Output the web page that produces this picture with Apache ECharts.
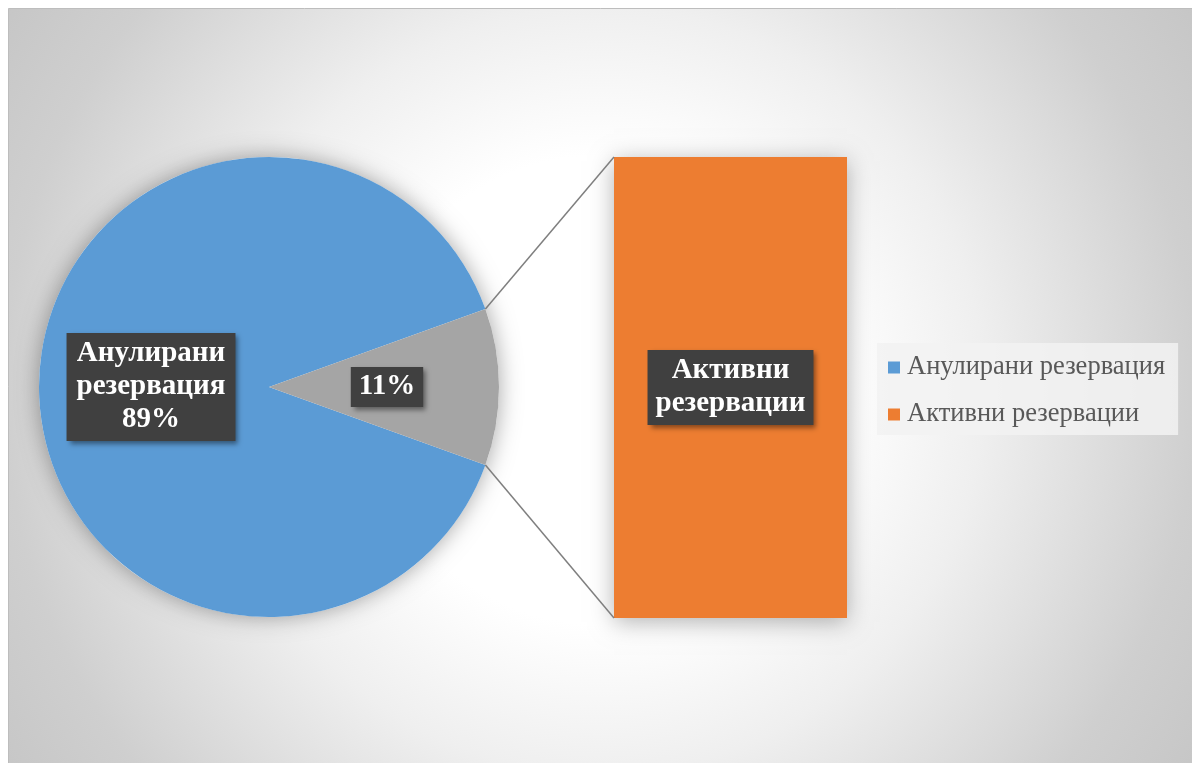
<!DOCTYPE html>
<html>
<head>
<meta charset="utf-8">
<script src="https://cdn.jsdelivr.net/npm/echarts@6/dist/echarts.min.js"></script>
<style>
  html, body { margin: 0; padding: 0; background: #ffffff; }
  #chart { width: 1192px; height: 763px; }
</style>
</head>
<body>
<div id="chart"></div>
<script>
// Reservation split: cancelled vs. active, drawn as a pie with a breakout bar
const pieNames = ['Анулирани резервация', 'Друго'];
const pieValues = [89, 11];
const barCategories = ['Друго'];
const barSeriesName = 'Активни резервации';
const barValues = [11];
const legendNames = ['Анулирани резервация', 'Активни резервации'];

const SERIF = '"Liberation Serif", "Times New Roman", serif';
const PIE_CENTER = [269, 387];
const PIE_RADIUS = 230;
const GRID = { left: 614, top: 157, width: 233, height: 461 };

const pieTotal = pieValues.reduce((a, b) => a + b, 0);
const barTotal = barValues.reduce((a, b) => a + b, 0);
// the "other" slice is the last one; centre it on the right-hand side
const otherShare = pieValues[pieValues.length - 1] / pieTotal;
const startAngle = -otherShare * 360 / 2;

const labelBox = {
  color: '#ffffff',
  fontFamily: SERIF,
  fontWeight: 'bold',
  fontSize: 29,
  lineHeight: 33,
  backgroundColor: '#404040',
  shadowColor: 'rgba(0,0,0,0.45)',
  shadowBlur: 5,
  shadowOffsetX: 3,
  shadowOffsetY: 3
};

const chart = echarts.init(document.getElementById('chart'), null, { renderer: 'canvas' });

const background = {
  id: 'bg',
  type: 'rect',
  z: -10,
  silent: true,
  shape: { x: 8.5, y: 8.5, width: 1200, height: 770 },
  style: {
    fill: {
      type: 'radial', global: true, x: 600, y: 390, r: 710,
      colorStops: [
        { offset: 0, color: '#ffffff' },
        { offset: 0.33, color: '#ffffff' },
        { offset: 0.54, color: '#efefef' },
        { offset: 0.84, color: '#cfcfcf' },
        { offset: 1, color: '#c6c6c6' }
      ]
    },
    stroke: '#bdbdbd',
    lineWidth: 1
  }
};

chart.setOption({
  animation: false,
  color: ['#5b9bd5', '#ed7d31', '#a5a5a5'],
  graphic: [background],
  legend: {
    orient: 'vertical',
    left: 877,
    top: 343,
    data: legendNames,
    icon: 'rect',
    itemWidth: 12,
    itemHeight: 12,
    itemGap: 20,
    padding: [11, 13, 7, 11],
    backgroundColor: 'rgba(242,242,242,0.85)',
    selectedMode: false,
    textStyle: { fontFamily: SERIF, fontSize: 26.5, color: '#595959', lineHeight: 24, padding: [0, 0, 0, 2] }
  },
  grid: Object.assign({ containLabel: false }, GRID),
  xAxis: { type: 'category', data: barCategories, show: false },
  yAxis: { type: 'value', min: 0, max: barTotal, show: false },
  series: [
    {
      // soft halo beneath the pie
      type: 'pie',
      silent: true,
      z: 1,
      center: PIE_CENTER,
      radius: PIE_RADIUS,
      label: { show: false },
      labelLine: { show: false },
      data: [{ name: '', value: pieTotal, itemStyle: { color: '#ffffff', shadowBlur: 22, shadowColor: 'rgba(0,0,0,0.35)' } }]
    },
    {
      type: 'pie',
      z: 2,
      center: PIE_CENTER,
      radius: PIE_RADIUS,
      startAngle: startAngle,
      clockwise: true,
      emphasis: { scale: false },
      labelLine: { show: false },
      label: Object.assign({
        show: true,
        position: 'inside',
        padding: [5, 10, 4, 10],
        formatter: p => p.dataIndex === 0
          ? p.name.replace(' ', '\n') + '\n' + Math.round(p.percent) + '%'
          : Math.round(p.percent) + '%'
      }, labelBox),
      data: pieNames.map((n, i) => ({
        name: n,
        value: pieValues[i],
        itemStyle: { color: i === 0 ? '#5b9bd5' : '#a5a5a5' },
        label: i === 0 ? {} : { padding: [4, 8, 3, 8] }
      }))
    },
    {
      type: 'bar',
      name: barSeriesName,
      stack: 'other',
      barWidth: '100%',
      data: barValues,
      itemStyle: { color: '#ed7d31', shadowBlur: 22, shadowOffsetY: 4, shadowColor: 'rgba(0,0,0,0.3)' },
      emphasis: { disabled: true },
      label: Object.assign({
        show: true,
        position: 'inside',
        padding: [5, 8, 4, 8],
        formatter: p => p.seriesName.replace(' ', '\n')
      }, labelBox)
    }
  ]
});

// Connector lines from the edges of the "other" slice to the corners of the bar
const half = otherShare * Math.PI; // half of the slice angle, radians
const sx = PIE_CENTER[0] + PIE_RADIUS * Math.cos(half);
const syTop = PIE_CENTER[1] - PIE_RADIUS * Math.sin(half);
const syBot = PIE_CENTER[1] + PIE_RADIUS * Math.sin(half);
const barTopY = chart.convertToPixel({ yAxisIndex: 0 }, barTotal);
const barBotY = chart.convertToPixel({ yAxisIndex: 0 }, 0);
const barLeftX = GRID.left;
const lineStyle = { stroke: '#7f7f7f', lineWidth: 1.5 };

chart.setOption({
  graphic: [
    background,
    { id: 'lnTop', type: 'line', silent: true, z: 3, shape: { x1: sx, y1: syTop, x2: barLeftX, y2: barTopY }, style: lineStyle },
    { id: 'lnBot', type: 'line', silent: true, z: 3, shape: { x1: sx, y1: syBot, x2: barLeftX, y2: barBotY }, style: lineStyle }
  ]
});
</script>
</body>
</html>
